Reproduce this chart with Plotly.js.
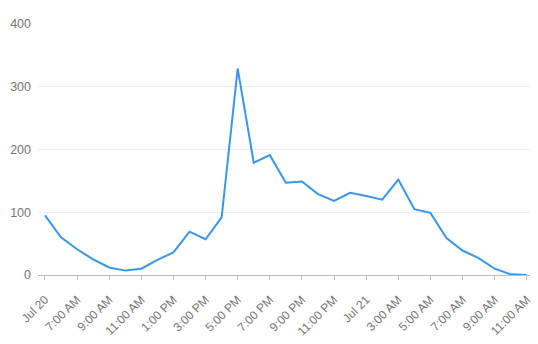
<!DOCTYPE html>
<html>
<head>
<meta charset="utf-8">
<script src="https://cdn.plot.ly/plotly-3.0.1.min.js"></script>
<style>html,body{margin:0;padding:0;background:#fff;}#chart{width:538px;height:344px;}</style>
</head>
<body>
<div id="chart"></div>
<script>
// Hourly timestamps (Jul 20 05:00 -> Jul 21 11:00)
const times = [
  "2020-07-20 05:00","2020-07-20 06:00","2020-07-20 07:00","2020-07-20 08:00","2020-07-20 09:00",
  "2020-07-20 10:00","2020-07-20 11:00","2020-07-20 12:00","2020-07-20 13:00","2020-07-20 14:00",
  "2020-07-20 15:00","2020-07-20 16:00","2020-07-20 17:00","2020-07-20 18:00","2020-07-20 19:00",
  "2020-07-20 20:00","2020-07-20 21:00","2020-07-20 22:00","2020-07-20 23:00","2020-07-21 00:00",
  "2020-07-21 01:00","2020-07-21 02:00","2020-07-21 03:00","2020-07-21 04:00","2020-07-21 05:00",
  "2020-07-21 06:00","2020-07-21 07:00","2020-07-21 08:00","2020-07-21 09:00","2020-07-21 10:00",
  "2020-07-21 11:00"
];
const values = [95, 60, 41, 25, 12, 7, 10, 24, 36, 69, 57, 92, 329, 179, 191, 147, 149, 129, 118, 131,
  126, 120, 152, 105, 99, 59, 39, 27, 10, 1, 0];

const tickVals = [
  "2020-07-20 05:00","2020-07-20 07:00","2020-07-20 09:00","2020-07-20 11:00","2020-07-20 13:00",
  "2020-07-20 15:00","2020-07-20 17:00","2020-07-20 19:00","2020-07-20 21:00","2020-07-20 23:00",
  "2020-07-21 01:00","2020-07-21 03:00","2020-07-21 05:00","2020-07-21 07:00","2020-07-21 09:00",
  "2020-07-21 11:00"
];
const tickText = ["Jul 20","7:00 AM","9:00 AM","11:00 AM","1:00 PM","3:00 PM","5:00 PM","7:00 PM",
  "9:00 PM","11:00 PM","Jul 21","3:00 AM","5:00 AM","7:00 AM","9:00 AM","11:00 AM"];
const yTicks = [0, 100, 200, 300, 400];

const trace = {
  x: times, y: values, type: 'scatter', mode: 'lines',
  line: {color: '#3a96e9', width: 2},
  hoverinfo: 'skip'
};

const layout = {
  width: 538, height: 344,
  margin: {l: 38, r: 8, t: 24, b: 69},
  paper_bgcolor: '#fff', plot_bgcolor: '#fff',
  showlegend: false,
  font: {family: '"Liberation Sans", Arial, sans-serif', size: 12, color: '#757575'},
  xaxis: {
    type: 'date',
    range: ['2020-07-20 04:34', '2020-07-21 11:12'],
    tickmode: 'array', tickvals: tickVals, ticktext: tickText,
    tickangle: -45,
    showgrid: false, zeroline: false,
    showline: true, linecolor: '#bdbdbd', linewidth: 1,
    ticks: 'outside', ticklen: 4, tickcolor: '#bdbdbd',
    ticklabelstandoff: 8,
    tickfont: {size: 12, color: '#757575'}
  },
  yaxis: {
    range: [0, 400],
    tickmode: 'array', tickvals: yTicks,
    showgrid: true, gridcolor: '#ececec', gridwidth: 1,
    zeroline: false, showline: false,
    ticks: '', ticklabelstandoff: 6,
    tickfont: {size: 12.5, color: '#757575'}
  }
};

Plotly.newPlot('chart', [trace], layout, {staticPlot: true, displayModeBar: false});
</script>
</body>
</html>
